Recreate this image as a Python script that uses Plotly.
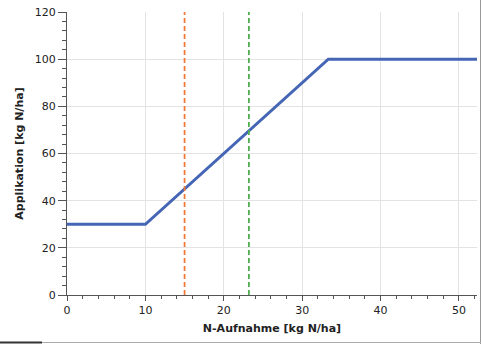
import plotly.graph_objects as go

# data
n_uptake = [0, 10, 33.33, 52.3]
application = [30, 30, 100, 100]
orange_x = 15
green_x = 23.2
x_label = "N-Aufnahme [kg N/ha]"
y_label = "Applikation [kg N/ha]"

fig = go.Figure()
fig.add_trace(go.Scatter(x=n_uptake, y=application, mode="lines",
                         line=dict(color="#4565b5", width=3), showlegend=False))
fig.add_trace(go.Scatter(x=[orange_x, orange_x], y=[0, 120], mode="lines",
                         line=dict(color="#f07a3a", width=1.8, dash="5px,3px"), showlegend=False))
fig.add_trace(go.Scatter(x=[green_x, green_x], y=[0, 120], mode="lines",
                         line=dict(color="#4cb04c", width=1.8, dash="5px,3px"), showlegend=False))

# frame artefacts of the original screenshot (paper coords)
L, W, T, H = 67, 410, 12, 283
def px(x):
    return (x - L) / W
def py(y):
    return (T + H - y) / H

shapes = [
    dict(type="line", xref="paper", yref="paper", x0=px(480.5), x1=px(480.5), y0=py(0), y1=py(344),
         line=dict(color="#999", width=1)),
    dict(type="line", xref="paper", yref="paper", x0=px(0), x1=px(481), y0=py(342.5), y1=py(342.5),
         line=dict(color="#aaa", width=1)),
    dict(type="line", xref="paper", yref="paper", x0=px(0), x1=px(42), y0=py(342.5), y1=py(342.5),
         line=dict(color="#333", width=2)),
]

font = dict(family="DejaVu Sans, Verdana, sans-serif", size=11, color="#222")
fig.update_layout(
    width=481, height=344,
    margin=dict(l=67, r=4, t=12, b=49),
    paper_bgcolor="white", plot_bgcolor="white",
    font=font,
    shapes=shapes,
    xaxis=dict(range=[0, 52.3], dtick=10, tick0=0, showgrid=True, gridcolor="#e3e3e3",
               showline=True, linecolor="#555", linewidth=1, ticks="outside", ticklen=5,
               tickcolor="#555", zeroline=False, automargin=False,
               minor=dict(dtick=2, ticks="outside", ticklen=3, tickcolor="#555", showgrid=False),
               title=dict(text="<b>" + x_label + "</b>", font=dict(size=11), standoff=8)),
    yaxis=dict(range=[0, 120], dtick=20, tick0=0, showgrid=True, gridcolor="#e3e3e3",
               showline=True, linecolor="#555", linewidth=1, ticks="outside", ticklen=8,
               tickcolor="#555", zeroline=False, automargin=False,
               minor=dict(dtick=4, ticks="outside", ticklen=4, tickcolor="#555", showgrid=False),
               title=dict(text="<b>" + y_label + "</b>", font=dict(size=11), standoff=8)),
)
fig.write_html("out.html", config={"displayModeBar": False},
               post_script="document.body.style.margin='0';")
